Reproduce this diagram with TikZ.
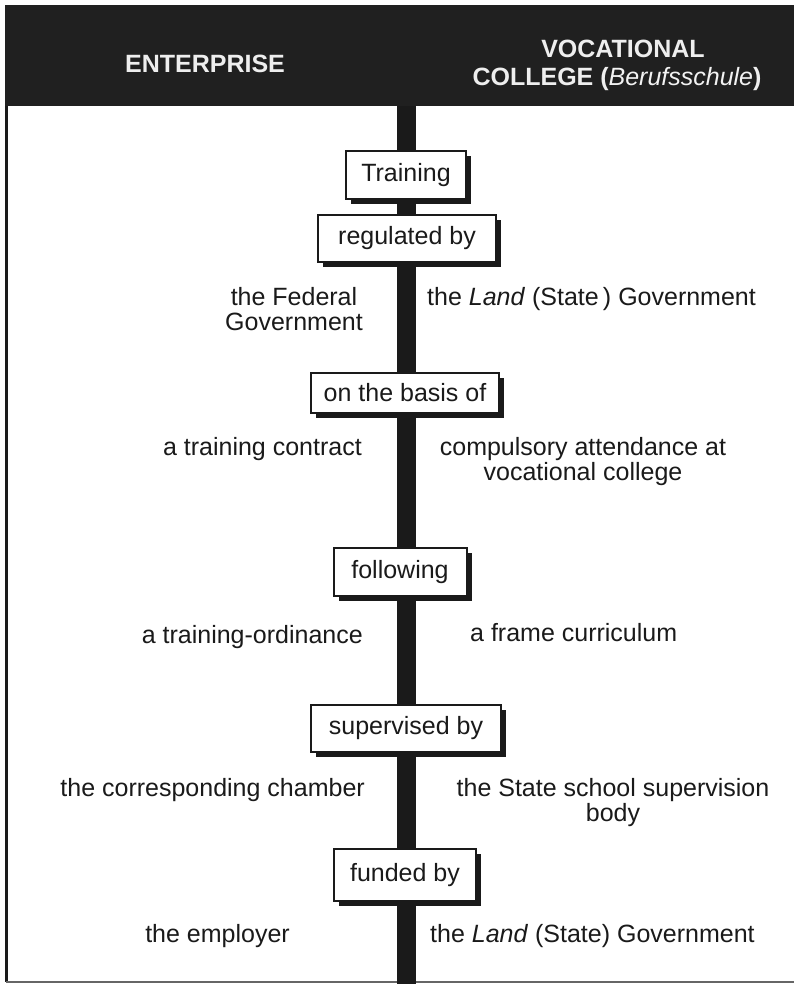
\documentclass[tikz,border=0pt]{standalone}
\usepackage{fontspec}
\setmainfont{Liberation Sans}
\usetikzlibrary{shadows}
\definecolor{ink}{HTML}{1A1A1A}
\definecolor{headfill}{HTML}{202020}
\definecolor{headtext}{HTML}{EEEEEE}
\begin{document}
\begin{tikzpicture}[x=1pt,y=-1pt,
  every node/.style={font=\fontsize{25}{25}\selectfont, text=ink, inner sep=0pt},
  stagebox/.style={draw=ink, line width=2pt, fill=white, minimum height=#1,
    general shadow={fill=ink, shadow xshift=5pt, shadow yshift=-5pt}},
  lbl/.style={align=center},
  head/.style={text=headtext, font=\fontsize{25}{28}\selectfont\bfseries}]
\useasboundingbox (0,0) rectangle (794,984);
\fill[white] (0,0) rectangle (794,984);
% frame: left rule, bottom rule
\draw[ink, line width=3pt] (6,105) -- (6,982);
\draw[black!60, line width=1.2pt] (6,982) -- (794,982);
% central spine
\fill[ink] (397,104) rectangle (416,984);
% heading band
\fill[headfill] (5,5) rectangle (794,106);
\node[head, anchor=base] (hent) at (205,73) {ENTERPRISE};
\node[head, anchor=base] (hvoc1) at (623,58) {VOCATIONAL};
\node[head, anchor=base] (hvoc2) at (617,86) {COLLEGE (\textcolor{headtext!75}{\textit{\mdseries Berufsschule}})};
% stage boxes on the spine
\node[stagebox=48pt, minimum width=120pt] (train) at (406,175) {Training};
\node[stagebox=47pt, minimum width=178pt] (reg) at (407,238.5) {regulated by};
\node[stagebox=40pt, minimum width=188pt] (basis) at (405,392.5) {on the basis of};
\node[stagebox=48pt, minimum width=133pt] (follow) at (400,572) {following};
\node[stagebox=47pt, minimum width=190pt] (super) at (406,728.5) {supervised by};
\node[stagebox=52pt, minimum width=142pt] (fund) at (405,875) {funded by};
% regulated by
\node[lbl, anchor=base] (regL1) at (294,305) {the Federal};
\node[lbl, anchor=base] (regL2) at (294,330) {Government};
\node[anchor=base west] (regR) at (427,305) {the \textit{Land} (State\,) Government};
% on the basis of
\node[anchor=base east] (basisL) at (362,455) {a training contract};
\node[lbl, anchor=base] (basisR1) at (583,455) {compulsory attendance at};
\node[lbl, anchor=base] (basisR2) at (583,480) {vocational college};
% following
\node[anchor=base east] (followL) at (363,643) {a training-ordinance};
\node[anchor=base west] (followR) at (470,641) {a frame curriculum};
% supervised by
\node[anchor=base east] (superL) at (365,796) {the corresponding chamber};
\node[lbl, anchor=base] (superR1) at (613,796) {the State school supervision};
\node[lbl, anchor=base] (superR2) at (613,821) {body};
% funded by
\node[anchor=base east] (fundL) at (290,942) {the employer};
\node[anchor=base west] (fundR) at (430,942) {the \textit{Land} (State) Government};
\end{tikzpicture}
\end{document}
